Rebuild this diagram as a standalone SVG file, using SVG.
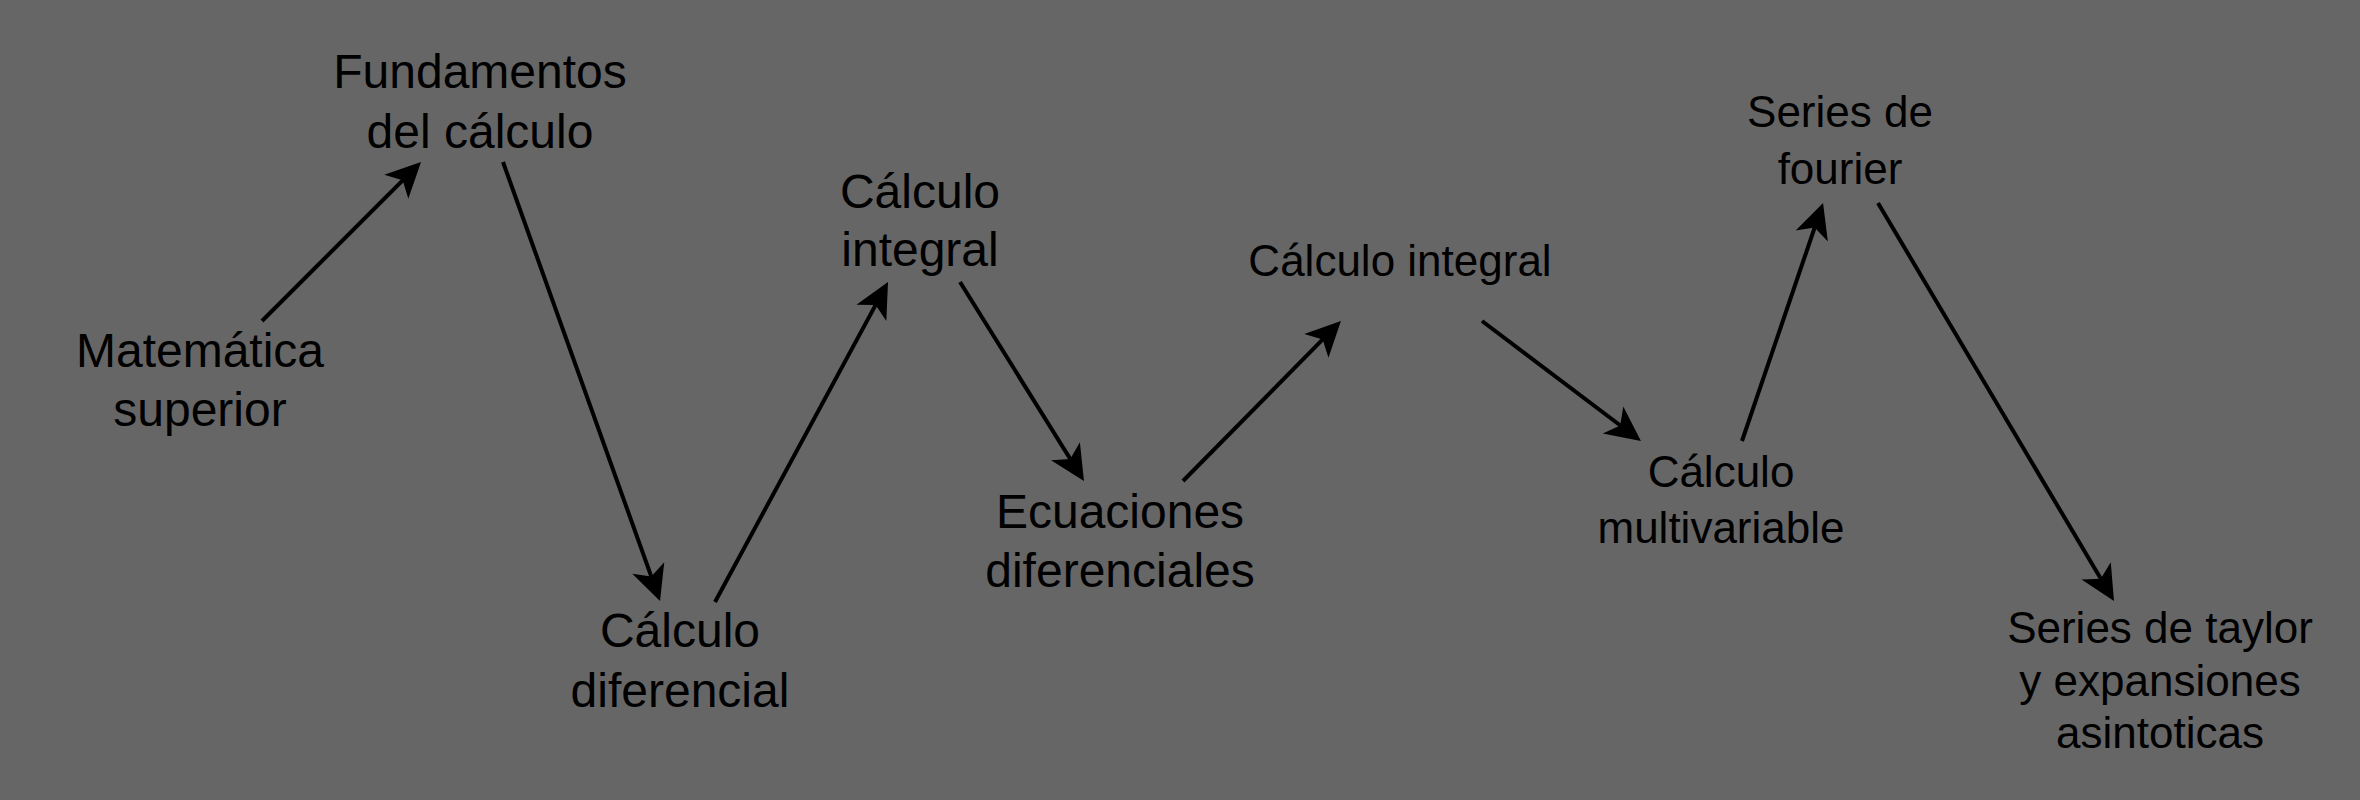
<svg xmlns="http://www.w3.org/2000/svg" width="2360" height="800" viewBox="0 0 2360 800">
  <defs>
    <marker id="arrow" markerUnits="userSpaceOnUse" markerWidth="60" markerHeight="60" viewBox="-20 -30 50 60" refX="0" refY="0" orient="auto" overflow="visible">
      <path d="M20,0 L-15,-17 L-6,0 L-15,17 Z" fill="#000"/>
    </marker>
    <style>
      text { font-family: "Liberation Sans", Arial, Helvetica, sans-serif; fill: #000; text-anchor: middle; }
      .big { font-size: 48px; }
      .small { font-size: 44px; }
      .edge { stroke: #000; stroke-width: 4; fill: none; marker-end: url(#arrow); }
    </style>
  </defs>
  <rect x="0" y="0" width="2360" height="800" fill="#666666"/>

  <g id="connectors">
    <line class="edge" x1="262" y1="321" x2="406.9" y2="176.1"/>
    <line class="edge" x1="503" y1="162" x2="653.3" y2="582.2"/>
    <line class="edge" x1="715" y1="602" x2="878.5" y2="299.6"/>
    <line class="edge" x1="960" y1="282" x2="1073.4" y2="464"/>
    <line class="edge" x1="1183" y1="481" x2="1326.9" y2="335.2"/>
    <line class="edge" x1="1482" y1="321" x2="1625" y2="429"/>
    <line class="edge" x1="1742" y1="441" x2="1816.6" y2="221.9"/>
    <line class="edge" x1="1878" y1="203" x2="2103.8" y2="583.8"/>
  </g>

  <g id="matematica-superior">
    <text class="big" x="200" y="367">Matemática</text>
    <text class="big" x="200" y="426">superior</text>
  </g>
  <g id="fundamentos">
    <text class="big" x="480" y="88">Fundamentos</text>
    <text class="big" x="480" y="148">del cálculo</text>
  </g>
  <g id="calculo-diferencial">
    <text class="big" x="680" y="647">Cálculo</text>
    <text class="big" x="680" y="707">diferencial</text>
  </g>
  <g id="calculo-integral-1">
    <text class="big" x="920" y="208">Cálculo</text>
    <text class="big" x="920" y="266">integral</text>
  </g>
  <g id="ecuaciones-diferenciales">
    <text class="big" x="1120" y="528">Ecuaciones</text>
    <text class="big" x="1120" y="587">diferenciales</text>
  </g>
  <g id="calculo-integral-2">
    <text class="small" x="1400" y="276">Cálculo integral</text>
  </g>
  <g id="calculo-multivariable">
    <text class="small" x="1721" y="487">Cálculo</text>
    <text class="small" x="1721" y="543">multivariable</text>
  </g>
  <g id="series-fourier">
    <text class="small" x="1840" y="127">Series de</text>
    <text class="small" x="1840" y="184">fourier</text>
  </g>
  <g id="series-taylor">
    <text class="small" x="2160" y="643">Series de taylor</text>
    <text class="small" x="2160" y="696">y expansiones</text>
    <text class="small" x="2160" y="748">asintoticas</text>
  </g>
</svg>
